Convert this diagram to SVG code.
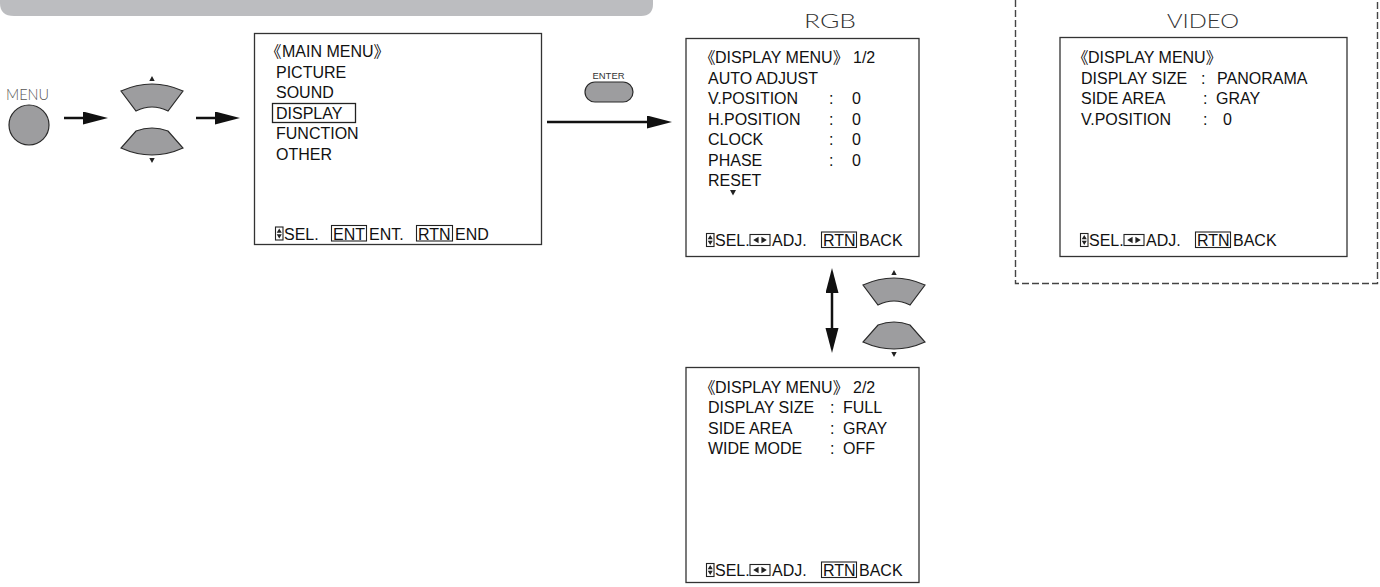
<svg xmlns="http://www.w3.org/2000/svg" xmlns:xlink="http://www.w3.org/1999/xlink" width="1380" height="587" viewBox="0 0 1380 587">
<defs>
<style>
.t{font-family:"Liberation Sans",Arial,"Noto Sans CJK JP",sans-serif;font-size:16px;fill:#111;}
.box{fill:#fff;stroke:#333;stroke-width:1.3;}
.btn{fill:#9d9d9f;stroke:#2a2a2a;stroke-width:1.2;}
.lbl{font-family:Lato,"Open Sans","Liberation Sans",sans-serif;font-weight:300;fill:#333;font-size:19px;}
.sm{font-family:"Liberation Sans",Arial,sans-serif;fill:#333;}
.ico{fill:none;stroke:#222;stroke-width:1.1;}
.tri{fill:#222;}
.arr{stroke:#111;stroke-width:2.5;fill:none;}
.dash{fill:none;stroke:#444;stroke-width:1.4;stroke-dasharray:7 3;}
</style>
<marker id="ah" markerUnits="userSpaceOnUse" markerWidth="26" markerHeight="14" refX="15" refY="6.5" orient="auto-start-reverse">
<path d="M0,0 L25,6.5 L0,13 Z" fill="#111"/>
</marker>
<g id="ud"><rect x="0" y="0" width="7.5" height="13" class="ico"/><path d="M1.2,5.8H6.3L3.75,1.5Z M1.2,7.2H6.3L3.75,11.5Z" class="tri"/></g>
<g id="lr"><rect x="0" y="0" width="20" height="11" class="ico"/><path d="M8.6,2.2V8.8L3.2,5.5Z M11.4,2.2V8.8L16.8,5.5Z" class="tri"/></g>
<g id="updn">
<path d="M121,91 Q152,77 183,91 L168,111 Q152,103 136,111 Z" class="btn"/>
<path d="M136,131 Q152,125 168,131 L183,148 Q152,162 121,148 Z" class="btn"/>
<path d="M149.3,81 H154.7 L152,76 Z M149.3,158 H154.7 L152,163 Z" class="tri"/>
</g>
</defs>
<rect width="1380" height="587" fill="#fff"/>
<path id="banner" d="M0,0 H653 V4 Q653,16 641,16 H14 Q0,16 0,3 Z" fill="#bcbdc0"/>

<g id="menu-button">
<text x="6" y="100" class="lbl" style="font-size:16px;fill:#555" textLength="43" lengthAdjust="spacingAndGlyphs">MENU</text>
<circle cx="29" cy="125" r="20" class="btn"/>
</g>

<g id="cursor-buttons-1"><use xlink:href="#updn"/></g>
<g id="cursor-buttons-2"><use xlink:href="#updn" x="742" y="194"/></g>

<g id="enter-button">
<text x="608.5" y="79" text-anchor="middle" class="sm" font-size="9.5" textLength="32" lengthAdjust="spacingAndGlyphs">ENTER</text>
<rect x="585" y="82" width="48" height="20" rx="10" class="btn"/>
</g>

<g id="connectors">
<line x1="64" y1="118" x2="98" y2="118" class="arr" marker-end="url(#ah)"/>
<line x1="196" y1="118" x2="230" y2="118" class="arr" marker-end="url(#ah)"/>
<line x1="547" y1="122" x2="662" y2="122" class="arr" marker-end="url(#ah)"/>
<line x1="832" y1="278" x2="832" y2="343" class="arr" marker-start="url(#ah)" marker-end="url(#ah)"/>
</g>

<g id="main-menu">
<rect x="254.5" y="33.5" width="287" height="211" class="box"/>
<text class="t" y="57"><tspan x="265.5">《</tspan><tspan x="282">MAIN MENU》</tspan></text>
<text class="t" x="276" y="77.6">PICTURE</text>
<text class="t" x="276" y="98.2">SOUND</text>
<text class="t" x="276" y="118.8">DISPLAY</text>
<rect x="272.5" y="103.5" width="83" height="19" class="ico" style="stroke-width:1.3"/>
<text class="t" x="276" y="139.4">FUNCTION</text>
<text class="t" x="276" y="160">OTHER</text>
<use xlink:href="#ud" x="275.5" y="227"/>
<text class="t" x="284" y="239.5">SEL.</text>
<rect x="331.5" y="225.5" width="35" height="15.5" class="ico"/>
<text class="t" x="333" y="239.5">ENT</text>
<text class="t" x="369" y="239.5">ENT.</text>
<rect x="416.5" y="225.5" width="36" height="15.5" class="ico"/>
<text class="t" x="418" y="239.5">RTN</text>
<text class="t" x="455" y="239.5">END</text>
</g>

<g id="rgb-menu">
<text class="lbl" x="830" y="28" text-anchor="middle" textLength="52" lengthAdjust="spacingAndGlyphs">RGB</text>
<rect x="686" y="38.5" width="233" height="218" class="box"/>
<text class="t" y="63"><tspan x="699.5">《</tspan><tspan x="715">DISPLAY MENU》</tspan></text>
<text class="t" x="853" y="63">1/2</text>
<text class="t" x="708" y="83.5">AUTO ADJUST</text>
<text class="t" x="708" y="104">V.POSITION</text><text class="t" x="829" y="104">:</text><text class="t" x="852" y="104">0</text>
<text class="t" x="708" y="124.5">H.POSITION</text><text class="t" x="829" y="124.5">:</text><text class="t" x="852" y="124.5">0</text>
<text class="t" x="708" y="145">CLOCK</text><text class="t" x="829" y="145">:</text><text class="t" x="852" y="145">0</text>
<text class="t" x="708" y="165.5">PHASE</text><text class="t" x="829" y="165.5">:</text><text class="t" x="852" y="165.5">0</text>
<text class="t" x="708" y="186">RESET</text>
<path d="M730,190 H736 L733,195.5 Z" class="tri"/>
<use xlink:href="#ud" x="706.5" y="233.5"/>
<text class="t" x="715" y="246">SEL.</text>
<use xlink:href="#lr" x="750" y="234.5"/>
<text class="t" x="772" y="246">ADJ.</text>
<rect x="821.5" y="232" width="35" height="15.5" class="ico"/>
<text class="t" x="823" y="246">RTN</text>
<text class="t" x="859" y="246">BACK</text>
</g>

<g id="rgb-menu-2">
<rect x="686" y="367.5" width="233" height="215" class="box"/>
<text class="t" y="392.5"><tspan x="699.5">《</tspan><tspan x="715">DISPLAY MENU》</tspan></text>
<text class="t" x="853" y="392.5">2/2</text>
<text class="t" x="708" y="413">DISPLAY SIZE</text><text class="t" x="830" y="413">:</text><text class="t" x="843" y="413">FULL</text>
<text class="t" x="708" y="433.5">SIDE AREA</text><text class="t" x="830" y="433.5">:</text><text class="t" x="843" y="433.5">GRAY</text>
<text class="t" x="708" y="454">WIDE MODE</text><text class="t" x="830" y="454">:</text><text class="t" x="843" y="454">OFF</text>
<use xlink:href="#ud" x="706.5" y="563.5"/>
<text class="t" x="715" y="576">SEL.</text>
<use xlink:href="#lr" x="750" y="564.5"/>
<text class="t" x="772" y="576">ADJ.</text>
<rect x="821.5" y="562" width="35" height="15.5" class="ico"/>
<text class="t" x="823" y="576">RTN</text>
<text class="t" x="859" y="576">BACK</text>
</g>

<g id="video-menu">
<path d="M1015.5,0 V283.5 H1377.5 V0" class="dash"/>
<text class="lbl" x="1203" y="28" text-anchor="middle" textLength="72" lengthAdjust="spacingAndGlyphs">VIDEO</text>
<rect x="1060" y="37.5" width="287" height="219" class="box"/>
<text class="t" y="63"><tspan x="1072.5">《</tspan><tspan x="1088">DISPLAY MENU》</tspan></text>
<text class="t" x="1081" y="83.5">DISPLAY SIZE</text><text class="t" x="1201" y="83.5">:</text><text class="t" x="1217" y="83.5">PANORAMA</text>
<text class="t" x="1081" y="104">SIDE AREA</text><text class="t" x="1203" y="104">:</text><text class="t" x="1216" y="104">GRAY</text>
<text class="t" x="1081" y="124.5">V.POSITION</text><text class="t" x="1203" y="124.5">:</text><text class="t" x="1223" y="124.5">0</text>
<use xlink:href="#ud" x="1080.5" y="233.5"/>
<text class="t" x="1089" y="246">SEL.</text>
<use xlink:href="#lr" x="1124" y="234.5"/>
<text class="t" x="1146" y="246">ADJ.</text>
<rect x="1195.5" y="232" width="35" height="15.5" class="ico"/>
<text class="t" x="1197" y="246">RTN</text>
<text class="t" x="1233" y="246">BACK</text>
</g>
</svg>
